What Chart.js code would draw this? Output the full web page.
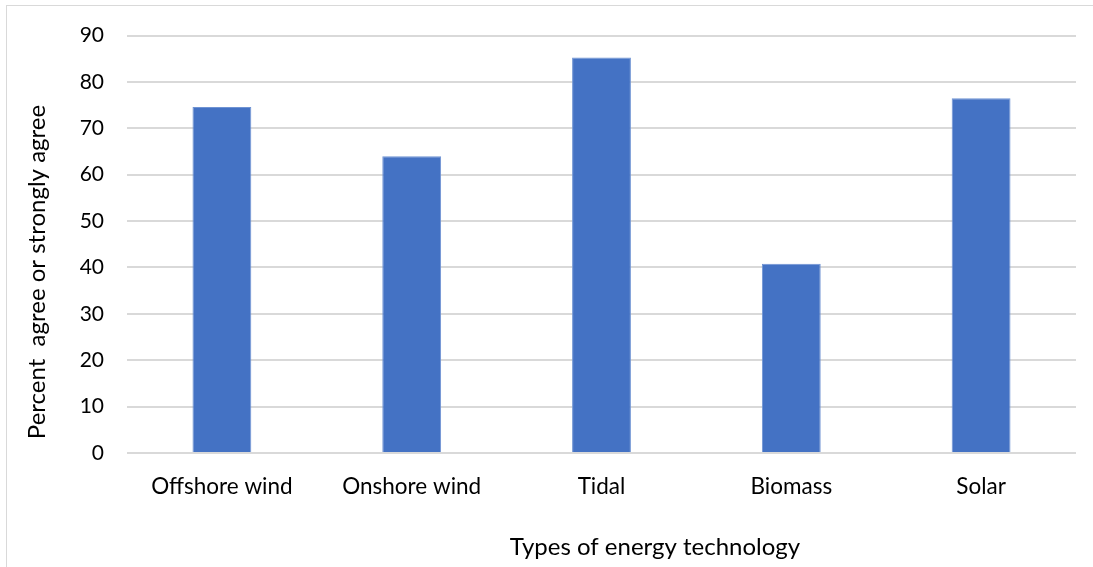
<!DOCTYPE html>
<html>
<head>
<meta charset="utf-8">
<script src="https://cdn.jsdelivr.net/npm/chart.js@4.4.1/dist/chart.umd.min.js"></script>
<style>
  html, body { margin: 0; padding: 0; background: #fff; }
  #wrap { position: relative; width: 1093px; height: 567px; overflow: hidden; }
  #frame { position: absolute; left: 6px; top: 5px; width: 1200px; height: 700px; border: 1px solid #d9d9d9; }
  #chart { position: absolute; left: 0; top: 0; }
</style>
</head>
<body>
<div id="wrap">
  <div id="frame"></div>
  <canvas id="chart" width="1093" height="567"></canvas>
</div>
<script>
// Share of respondents who agree or strongly agree, by technology
const technologies = ["Offshore wind", "Onshore wind", "Tidal", "Biomass", "Solar"];
const agreePercent = [74.6, 64.0, 85.3, 40.8, 76.5];
const yTicks = [0, 10, 20, 30, 40, 50, 60, 70, 80, 90];
const xTitle = "Types of energy technology";
const yTitle = "Percent  agree or strongly agree";

const FONT = "Lato, 'Open Sans', sans-serif";

// Axis titles are placed relative to the whole chart, not the plot area
const axisTitles = {
  id: "axisTitles",
  afterDraw(chart) {
    const ctx = chart.ctx;
    ctx.save();
    ctx.fillStyle = "#000";
    ctx.font = "24px " + FONT;
    ctx.textAlign = "center";
    ctx.textBaseline = "alphabetic";
    ctx.fillText(xTitle, 655, 555);
    ctx.translate(45, 272);
    ctx.rotate(-Math.PI / 2);
    ctx.fillText(yTitle, 0, 0);
    ctx.restore();
  },
};

new Chart(document.getElementById("chart"), {
  type: "bar",
  data: {
    labels: technologies,
    datasets: [{
      data: agreePercent,
      backgroundColor: "#4472C4",
      borderColor: "#6f93d3",
      borderWidth: 1,
      categoryPercentage: 1.0,
      barPercentage: 0.31,
    }],
  },
  options: {
    responsive: false,
    animation: false,
    layout: { padding: { left: 0, right: 17, top: 34, bottom: 0 } },
    plugins: { legend: { display: false }, tooltip: { enabled: false } },
    scales: {
      x: {
        grid: { display: false },
        border: { display: false },
        ticks: { color: "#000", font: { family: FONT, size: 22.5 }, padding: 12 },
        afterFit: (scale) => { scale.height = 114; },
      },
      y: {
        min: 0,
        max: 90,
        afterBuildTicks: (scale) => { scale.ticks = yTicks.map(v => ({ value: v })); },
        grid: { color: "#d9d9d9", lineWidth: 2, drawTicks: false },
        border: { display: false },
        ticks: { color: "#000", font: { family: FONT, size: 21 }, padding: 23 },
        afterFit: (scale) => { scale.width = 127; },
      },
    },
  },
  plugins: [axisTitles],
});
</script>
</body>
</html>
